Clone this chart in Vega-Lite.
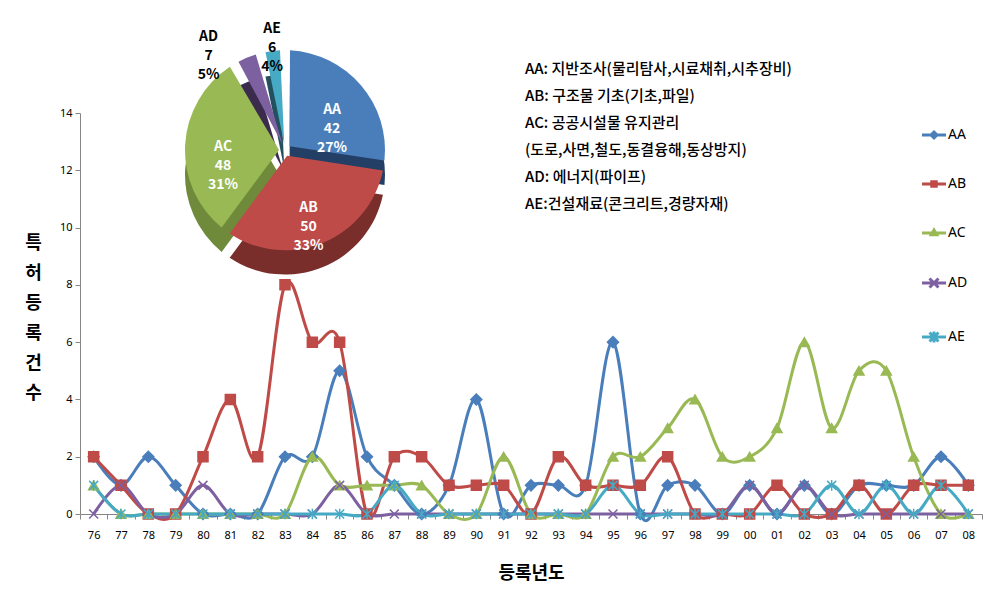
{
  "$schema": "https://vega.github.io/schema/vega-lite/v6.json",
  "width": 902,
  "height": 401,
  "autosize": {"type": "none"},
  "padding": {"left": 80, "top": 113, "right": 16, "bottom": 88},
  "background": "white",
  "config": {"view": {"stroke": null}, "font": "Noto Sans CJK KR"},
  "title": {
    "text": ["AA: 지반조사(물리탐사,시료채취,시추장비)", "AB: 구조물 기초(기초,파일)", "AC: 공공시설물 유지관리", "(도로,사면,철도,동결융해,동상방지)", "AD: 에너지(파이프)", "AE:건설재료(콘크리트,경량자재)"],
    "orient": "top",
    "anchor": "start",
    "frame": "group",
    "dx": 445,
    "dy": 190,
    "offset": 0,
    "font": "Noto Sans CJK KR",
    "fontSize": 15,
    "fontWeight": 500,
    "lineHeight": 27,
    "color": "#000000"
  },
  "datasets": {
    "counts": [
      {"year": "76", "AA": 2, "AB": 2, "AC": 1, "AD": 0, "AE": 1},
      {"year": "77", "AA": 1, "AB": 1, "AC": 0, "AD": 1, "AE": 0},
      {"year": "78", "AA": 2, "AB": 0, "AC": 0, "AD": 0, "AE": 0},
      {"year": "79", "AA": 1, "AB": 0, "AC": 0, "AD": 0, "AE": 0},
      {"year": "80", "AA": 0, "AB": 2, "AC": 0, "AD": 1, "AE": 0},
      {"year": "81", "AA": 0, "AB": 4, "AC": 0, "AD": 0, "AE": 0},
      {"year": "82", "AA": 0, "AB": 2, "AC": 0, "AD": 0, "AE": 0},
      {"year": "83", "AA": 2, "AB": 8, "AC": 0, "AD": 0, "AE": 0},
      {"year": "84", "AA": 2, "AB": 6, "AC": 2, "AD": 0, "AE": 0},
      {"year": "85", "AA": 5, "AB": 6, "AC": 1, "AD": 1, "AE": 0},
      {"year": "86", "AA": 2, "AB": 0, "AC": 1, "AD": 0, "AE": 0},
      {"year": "87", "AA": 1, "AB": 2, "AC": 1, "AD": 0, "AE": 1},
      {"year": "88", "AA": 0, "AB": 2, "AC": 1, "AD": 0, "AE": 0},
      {"year": "89", "AA": 1, "AB": 1, "AC": 0, "AD": 0, "AE": 0},
      {"year": "90", "AA": 4, "AB": 1, "AC": 0, "AD": 0, "AE": 0},
      {"year": "91", "AA": 0, "AB": 1, "AC": 2, "AD": 0, "AE": 0},
      {"year": "92", "AA": 1, "AB": 0, "AC": 0, "AD": 0, "AE": 0},
      {"year": "93", "AA": 1, "AB": 2, "AC": 0, "AD": 0, "AE": 0},
      {"year": "94", "AA": 1, "AB": 1, "AC": 0, "AD": 0, "AE": 0},
      {"year": "95", "AA": 6, "AB": 1, "AC": 2, "AD": 0, "AE": 1},
      {"year": "96", "AA": 0, "AB": 1, "AC": 2, "AD": 0, "AE": 0},
      {"year": "97", "AA": 1, "AB": 2, "AC": 3, "AD": 0, "AE": 0},
      {"year": "98", "AA": 1, "AB": 0, "AC": 4, "AD": 0, "AE": 0},
      {"year": "99", "AA": 0, "AB": 0, "AC": 2, "AD": 0, "AE": 0},
      {"year": "00", "AA": 1, "AB": 0, "AC": 2, "AD": 1, "AE": 0},
      {"year": "01", "AA": 0, "AB": 1, "AC": 3, "AD": 0, "AE": 0},
      {"year": "02", "AA": 1, "AB": 0, "AC": 6, "AD": 1, "AE": 0},
      {"year": "03", "AA": 0, "AB": 0, "AC": 3, "AD": 0, "AE": 1},
      {"year": "04", "AA": 1, "AB": 1, "AC": 5, "AD": 0, "AE": 0},
      {"year": "05", "AA": 1, "AB": 0, "AC": 5, "AD": 0, "AE": 1},
      {"year": "06", "AA": 1, "AB": 1, "AC": 2, "AD": 0, "AE": 0},
      {"year": "07", "AA": 2, "AB": 1, "AC": 0, "AD": 0, "AE": 1},
      {"year": "08", "AA": 1, "AB": 1, "AC": 0, "AD": 0, "AE": 0}
    ],
    "pie": [
      {"series": "AA", "count": 42, "label": "AA\n42\n27%"},
      {"series": "AB", "count": 50, "label": "AB\n50\n33%"},
      {"series": "AC", "count": 48, "label": "AC\n48\n31%"},
      {"series": "AD", "count": 7, "label": "AD\n7\n5%"},
      {"series": "AE", "count": 6, "label": "AE\n6\n4%"}
    ]
  },
  "resolve": {"legend": {"color": "independent", "shape": "independent"}},
  "layer": [
    {
      "data": {"name": "counts"},
      "transform": [{"fold": ["AA", "AB", "AC", "AD", "AE"], "as": ["series", "value"]}],
      "mark": {"type": "line", "interpolate": "cardinal", "strokeWidth": 3, "strokeJoin": "round"},
      "encoding": {
        "x": {
          "field": "year", "type": "ordinal",
          "scale": {"type": "band", "domain": ["76","77","78","79","80","81","82","83","84","85","86","87","88","89","90","91","92","93","94","95","96","97","98","99","00","01","02","03","04","05","06","07","08"], "paddingInner": 0, "paddingOuter": 0},
          "axis": {"tickBand": "extent", "labelAngle": 0, "labelFont": "Noto Sans", "labelFontSize": 11, "labelColor": "#000000", "labelPadding": 10, "tickSize": 5, "domainColor": "#868686", "tickColor": "#868686", "title": "등록년도", "titleFont": "Noto Sans CJK KR", "titleFontSize": 18, "titleFontWeight": "bold", "titleColor": "#000000", "titlePadding": 24}
        },
        "y": {
          "field": "value", "type": "quantitative",
          "scale": {"domain": [0, 14], "nice": false, "zero": true},
          "axis": {"values": [0, 2, 4, 6, 8, 10, 12, 14], "grid": false, "domainColor": "#868686", "tickColor": "#868686", "tickSize": 5, "labelFont": "Noto Sans", "labelFontSize": 11, "labelColor": "#000000", "labelPadding": 3, "title": ["특", "허", "등", "록", "건", "수"], "titleAngle": 0, "titleFont": "Noto Sans CJK KR", "titleFontSize": 18, "titleFontWeight": "bold", "titleColor": "#000000", "titleX": -47, "titleY": 121, "titleAlign": "center", "titleBaseline": "top", "titleLineHeight": 30}
        },
        "color": {"field": "series", "type": "nominal", "scale": {"domain": ["AA", "AB", "AC", "AD", "AE"], "range": ["#4A7EBB", "#BE4B48", "#98B954", "#7D60A0", "#46AAC5"]}, "legend": null}
      }
    },
    {
      "data": {"name": "counts"},
      "transform": [{"fold": ["AA", "AB", "AC", "AD", "AE"], "as": ["series", "value"]}],
      "mark": {"type": "point", "filled": true, "opacity": 1, "strokeWidth": 1.5},
      "encoding": {
        "x": {"field": "year", "type": "ordinal"},
        "y": {"field": "value", "type": "quantitative"},
        "color": {"field": "series", "type": "nominal", "legend": null},
        "stroke": {"field": "series", "type": "nominal", "scale": {"domain": ["AA", "AB", "AC", "AD", "AE"], "range": ["#4A7EBB", "#BE4B48", "#98B954", "#7D60A0", "#46AAC5"]}, "legend": null},
        "shape": {"condition": [
          {"test": "datum.series === 'AA'", "value": "diamond"},
          {"test": "datum.series === 'AB'", "value": "square"},
          {"test": "datum.series === 'AC'", "value": "triangle-up"},
          {"test": "datum.series === 'AD'", "value": "M-1,-1L1,1M-1,1L1,-1"}
        ], "value": "M-1,-1L1,1M-1,1L1,-1M0,-1.2L0,1.2"},
        "size": {"condition": [
          {"test": "datum.series === 'AA'", "value": 120},
          {"test": "datum.series === 'AB'", "value": 100},
          {"test": "datum.series === 'AC'", "value": 100}
        ], "value": 80}
      }
    },
    {
      "data": {"name": "pie"},
      "mark": {"type": "point", "filled": false, "opacity": 0, "strokeWidth": 3},
      "encoding": {
        "x": {"datum": "83", "type": "ordinal"},
        "y": {"datum": 12.7, "type": "quantitative"},
        "color": {"field": "series", "type": "nominal",
          "legend": {"title": null, "orient": "none", "legendX": 847, "legendY": 15, "symbolSize": 100, "symbolStrokeWidth": 3, "labelFont": "Noto Sans", "labelFontSize": 14, "labelColor": "#000000", "labelOffset": 7, "rowPadding": 31, "symbolOpacity": 1}},
        "shape": {"field": "series", "type": "nominal",
          "scale": {"domain": ["AA", "AB", "AC", "AD", "AE"], "range": [
            "M-2.4,0H2.4M0,-0.6L0.6,0L0,0.6L-0.6,0Z",
            "M-2.4,0H2.4M-0.45,-0.45H0.45V0.45H-0.45Z",
            "M-2.4,0H2.4M0,-0.6L0.55,0.35H-0.55Z",
            "M-2.4,0H2.4M-0.9,-0.9L0.9,0.9M-0.9,0.9L0.9,-0.9",
            "M-2.4,0H2.4M-0.9,-0.9L0.9,0.9M-0.9,0.9L0.9,-0.9M0,-1.1V1.1"
          ]},
          "legend": {"title": null, "orient": "none", "legendX": 847, "legendY": 15, "symbolSize": 100, "symbolStrokeWidth": 3, "labelFont": "Noto Sans", "labelFontSize": 14, "labelColor": "#000000", "labelOffset": 7, "rowPadding": 31, "symbolOpacity": 1}
        }
      }
    },
    {
      "data": {"name": "pie"},
      "mark": {"type": "arc", "outerRadius": 100, "innerRadius": 6, "padAngle": 0.1},
      "encoding": {
        "x": {"datum": "83", "type": "ordinal"},
        "y": {"datum": 11.85, "type": "quantitative"},
        "theta": {"field": "count", "type": "quantitative", "stack": true},
        "fill": {"field": "series", "type": "nominal", "scale": {"domain": ["AA", "AB", "AC", "AD", "AE"], "range": ["#243F66", "#7A2E2C", "#6E8A3A", "#3B2C4E", "#23505E"]}, "legend": null}
      }
    },
    {
      "data": {"name": "pie"},
      "mark": {"type": "arc", "outerRadius": 100, "innerRadius": 6, "padAngle": 0.1},
      "encoding": {
        "x": {"datum": "83", "type": "ordinal"},
        "y": {"datum": 12.7, "type": "quantitative"},
        "theta": {"field": "count", "type": "quantitative", "stack": true},
        "color": {"field": "series", "type": "nominal", "legend": null}
      }
    },
    {
      "data": {"name": "pie"},
      "mark": {"type": "text", "radius": 62, "font": "Noto Sans CJK KR", "fontSize": 14, "fontWeight": "bold", "color": "white", "lineBreak": "\n", "lineHeight": 19},
      "encoding": {
        "x": {"datum": "83", "type": "ordinal"},
        "y": {"datum": 12.7, "type": "quantitative"},
        "theta": {"field": "count", "type": "quantitative", "stack": true},
        "detail": {"field": "series"},
        "text": {"field": "label"},
        "opacity": {"condition": {"test": "datum.series === 'AD' || datum.series === 'AE'", "value": 0}, "value": 1}
      }
    },
    {
      "data": {"name": "pie"},
      "mark": {"type": "text", "radius": 122, "dx": -30, "font": "Noto Sans CJK KR", "fontSize": 14, "fontWeight": "bold", "color": "black", "lineBreak": "\n", "lineHeight": 19},
      "encoding": {
        "x": {"datum": "83", "type": "ordinal"},
        "y": {"datum": 12.7, "type": "quantitative"},
        "theta": {"field": "count", "type": "quantitative", "stack": true},
        "detail": {"field": "series"},
        "text": {"field": "label"},
        "opacity": {"condition": {"test": "datum.series === 'AD'", "value": 1}, "value": 0}
      }
    },
    {
      "data": {"name": "pie"},
      "mark": {"type": "text", "radius": 122, "dx": 2, "font": "Noto Sans CJK KR", "fontSize": 14, "fontWeight": "bold", "color": "black", "lineBreak": "\n", "lineHeight": 19},
      "encoding": {
        "x": {"datum": "83", "type": "ordinal"},
        "y": {"datum": 12.7, "type": "quantitative"},
        "theta": {"field": "count", "type": "quantitative", "stack": true},
        "detail": {"field": "series"},
        "text": {"field": "label"},
        "opacity": {"condition": {"test": "datum.series === 'AE'", "value": 1}, "value": 0}
      }
    }
  ]
}
